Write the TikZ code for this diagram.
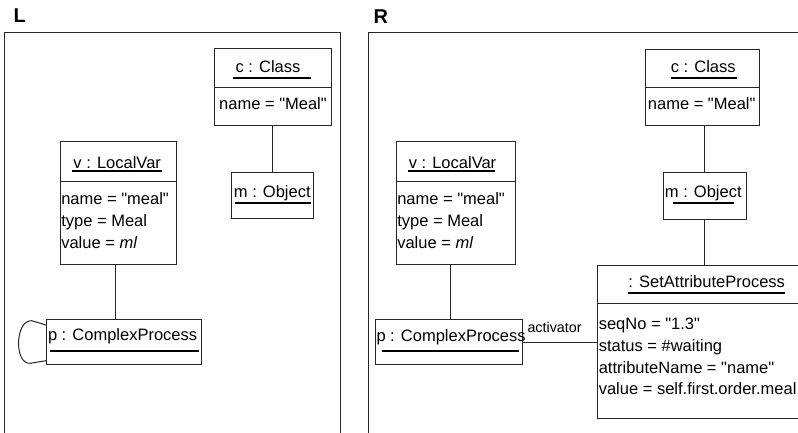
\documentclass[tikz,border=0pt]{standalone}
\usepackage{fontspec}
% keep the plain ASCII double quote as it is typed
\setmainfont{Liberation Sans}[Ligatures=TeXOff]
\begin{document}
\begin{tikzpicture}[x=1pt,y=-1pt,
  every node/.style={inner sep=0pt, outer sep=0pt},
  objbox/.style={draw=black!85, line width=1pt, anchor=north west},
  frameline/.style={draw=black!85, line width=1pt},
  link/.style={draw=black!85, line width=1pt},
  objtitle/.style={anchor=base, font=\fontsize{16.5}{20}\selectfont},
  objtitlew/.style={anchor=base west, font=\fontsize{16.5}{20}\selectfont},
  attr/.style={anchor=base west, font=\fontsize{16.5}{20}\selectfont},
  attrc/.style={anchor=base, font=\fontsize{16.5}{20}\selectfont},
  uline/.style={draw=black, line width=1.9pt},
  panel/.style={anchor=base west, font=\fontsize{20}{24}\selectfont\bfseries},
  rolelabel/.style={anchor=base west, font=\fontsize{14.3}{17}\selectfont}]
\useasboundingbox (0,0) rectangle (798,433);
\clip (0,0) rectangle (798,433);

% panel captions and frames
\node[panel] (capL) at (13.5,23) {L};
\node[panel] (capR) at (373.5,24) {R};
\draw[frameline] (4.5,460) -- (4.5,32.7) -- (340.7,32.7) -- (340.7,460);
\draw[frameline] (368,460) -- (368,32.7) -- (810,32.7);

% ---------- left-hand side ----------
\node[objbox, minimum width=117pt, minimum height=76.3pt] (Lc) at (214,49) {};
\draw[link] (214,88) -- (331,88);
\node[objtitle] (Lct) at (268,72.7) {c : Class};
\draw[uline] (233,77.7) -- (310.7,77.7);
\node[attrc] (Lca) at (273,110) {name = "Meal"};

\node[objbox, minimum width=82pt, minimum height=46pt] (Lm) at (231.7,172.3) {};
\node[objtitle] (Lmt) at (272.3,197.3) {m : Object};
\draw[uline] (235,203.3) -- (311,203.3);

\node[objbox, minimum width=116pt, minimum height=122.3pt] (Lv) at (60,141.7) {};
\draw[link] (60,181) -- (176,181);
\node[objtitle] (Lvt) at (117.2,168) {v : LocalVar};
\draw[uline] (72,170.8) -- (162,170.8);
\node[attr] (Lv1) at (61.3,204.3) {name = "meal"};
\node[attr] (Lv2) at (61.3,226.3) {type = Meal};
\node[attr] (Lv3) at (61.3,248.3) {value = \textit{ml}};

\node[objbox, minimum width=155.3pt, minimum height=45.7pt] (Lp) at (46,319) {};
\node[objtitlew] (Lpt) at (48,340.7) {p : ComplexProcess};
\draw[uline] (50,350.7) -- (199,350.7);

\draw[link] (Lc.south -| 272.3,0) -- (Lm.north -| 272.3,0);
\draw[link] (Lv.south -| 115,0) -- (Lp.north -| 115,0);
% self-loop of p
\draw[link] (Lp.west |- 0,325) -- (31.7,320.7)
  .. controls (15,320) and (14,364) .. (30,363.3) -- (Lp.west |- 0,360.7);

% ---------- right-hand side ----------
\node[objbox, minimum width=113.6pt, minimum height=76pt] (Rc) at (645.7,49.3) {};
\draw[link] (645.7,88) -- (759.3,88);
\node[objtitle] (Rct) at (703.2,72.7) {c : Class};
\draw[uline] (670.7,77.7) -- (736.7,77.7);
\node[attrc] (Rca) at (701.7,110) {name = "Meal"};

\node[objbox, minimum width=82.7pt, minimum height=46.7pt] (Rm) at (663.3,172.3) {};
\node[objtitle] (Rmt) at (703.3,197.3) {m : Object};
\draw[uline] (673,202.9) -- (734,202.9);

\node[objbox, minimum width=119pt, minimum height=122.3pt] (Rv) at (396,141.7) {};
\draw[link] (396,181) -- (515,181);
\node[objtitle] (Rvt) at (452.5,168) {v : LocalVar};
\draw[uline] (407.7,170.8) -- (495,170.8);
\node[attr] (Rv1) at (397.3,204.3) {name = "meal"};
\node[attr] (Rv2) at (397.3,226.3) {type = Meal};
\node[attr] (Rv3) at (397.3,248.3) {value = \textit{ml}};

\node[objbox, minimum width=147.5pt, minimum height=45pt] (Rp) at (375,319.5) {};
\node[objtitlew] (Rpt) at (376.5,341) {p : ComplexProcess};
\draw[uline] (381.7,350.7) -- (519,350.7);

\node[objbox, minimum width=218.7pt, minimum height=153.3pt] (Rs) at (597.3,265) {};
\draw[link] (597.3,303.3) -- (816,303.3);
\node[objtitle] (Rst) at (706.7,287.3) {: SetAttributeProcess};
\draw[uline] (628.3,292.9) -- (785,292.9);
\node[attr] (Rs1) at (598.8,329) {seqNo = "1.3"};
\node[attr] (Rs2) at (598.8,351) {status = \#waiting};
\node[attr] (Rs3) at (598.8,373) {attributeName = "name"};
\node[attr] (Rs4) at (598.8,394) {value = self.first.order.meal};

\draw[link] (Rc.south -| 704.3,0) -- (Rm.north -| 704.3,0);
\draw[link] (Rm.south -| 704.3,0) -- (Rs.north -| 704.3,0);
\draw[link] (Rv.south -| 450.7,0) -- (Rp.north -| 450.7,0);
\draw[link] (Rp.east |- 0,342) -- (Rs.west |- 0,342);
\node[rolelabel] (act) at (527.5,332.7) {activator};
\end{tikzpicture}
\end{document}
